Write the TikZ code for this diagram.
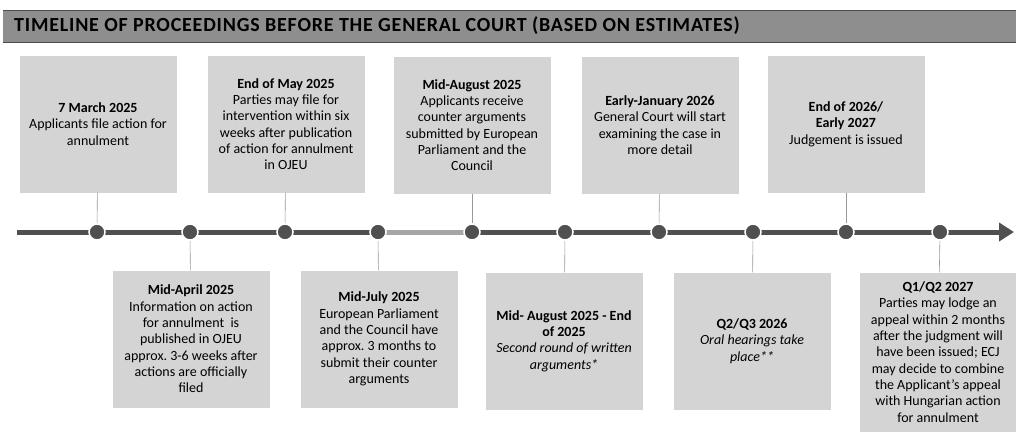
\documentclass[tikz,border=0pt]{standalone}
\usepackage{fontspec}
\setmainfont{Carlito}
\usetikzlibrary{arrows.meta}
\definecolor{boxgray}{HTML}{D4D4D4}
\definecolor{bargray}{HTML}{8E8E8E}
\definecolor{linegray}{HTML}{505050}
\definecolor{lightline}{HTML}{A6A6A6}
\tikzset{
  event/.style={fill=boxgray, text width=153pt, minimum width=157pt,
    minimum height=137pt, align=flush center, inner sep=2pt,
    font=\fontsize{14}{16.3}\selectfont},
  dot/.style={circle, fill=linegray, draw=white, line width=1.5pt,
    minimum size=16pt, inner sep=0pt},
  conn/.style={gray!80, line width=0.6pt},
  tl/.style={linegray, line width=5pt},
}
\begin{document}
\begin{tikzpicture}[x=1pt,y=-1pt]
  \useasboundingbox (0,0) rectangle (1016,432);
  % title bar
  \fill[bargray] (3,10) rectangle (1016,42);
  \draw[gray!60!black, line width=0.8pt] (3,10) -- (1016,10) (3,42) -- (1016,42);
  \node[anchor=west, font=\fontsize{20}{22}\selectfont\bfseries\addfontfeature{LetterSpace=4}, inner sep=0pt] (title) at (14,26)
    {TIMELINE OF PROCEEDINGS BEFORE THE GENERAL COURT (BASED ON ESTIMATES)};

  % timeline
  \coordinate (start) at (17,232);
  \coordinate (tip) at (1014,232);
  \draw[tl, -{Triangle[length=15pt,width=18pt]}] (start) -- (tip);
  \draw[lightline, line width=5pt] (378,232) -- (472,232);
  \foreach \x [count=\i] in {97,190,285,378,472,565,659,753,846,940}
    \node[dot] (d\i) at (\x,232) {};

  % events above the line
  \node[event] (mar) at (98,124) {\textbf{7 March 2025}\\ Applicants file action for\\ annulment};
  \node[event] (may) at (286,124) {\textbf{End of May 2025}\\ Parties may file for\\ intervention within six\\ weeks after publication\\ of action for annulment\\ in OJEU};
  \node[event] (aug) at (472,125) {\textbf{Mid-August 2025}\\ Applicants receive\\ counter arguments\\ submitted by European\\ Parliament and the\\ Council};
  \node[event] (jan) at (660,125) {\textbf{Early-January 2026}\\ General Court will start\\ examining the case in\\ more detail};
  \node[event] (end) at (846,124) {\textbf{End of 2026/}\\ \textbf{Early 2027}\\ Judgement is issued};

  % events below the line
  \node[event] (apr) at (191,339) {\textbf{Mid-April 2025}\\ Information on action\\ for annulment\ \ is\\ published in OJEU\\ approx.\ 3-6 weeks after\\ actions are officially\\ filed};
  \node[event] (jul) at (379,339) {\textbf{Mid-July 2025}\\ European Parliament\\ and the Council have\\ approx.\ 3 months to\\ submit their counter\\ arguments};
  \node[event] (augend) at (564,341) {\textbf{Mid- August 2025 - End}\\ \textbf{of 2025}\\ \textit{Second round of written}\\ \textit{arguments*}};
  \node[event] (q23) at (752,341) {\textbf{Q2/Q3 2026}\\ \textit{Oral hearings take}\\ \textit{place**}};
  \node[event, minimum height=159pt] (q12) at (938,352) {\textbf{Q1/Q2 2027}\\ Parties may lodge an\\ appeal within 2 months\\ after the judgment will\\ have been issued; ECJ\\ may decide to combine\\ the Applicant's appeal\\ with Hungarian action\\ for annulment};

  % connectors
  \draw[conn] (mar) -- (d1);
  \draw[conn] (apr) -- (d2);
  \draw[conn] (may) -- (d3);
  \draw[conn] (jul) -- (d4);
  \draw[conn] (aug) -- (d5);
  \draw[conn] (augend) -- (d6);
  \draw[conn] (jan) -- (d7);
  \draw[conn] (q23) -- (d8);
  \draw[conn] (end) -- (d9);
  \draw[conn] (q12) -- (d10);
\end{tikzpicture}
\end{document}
